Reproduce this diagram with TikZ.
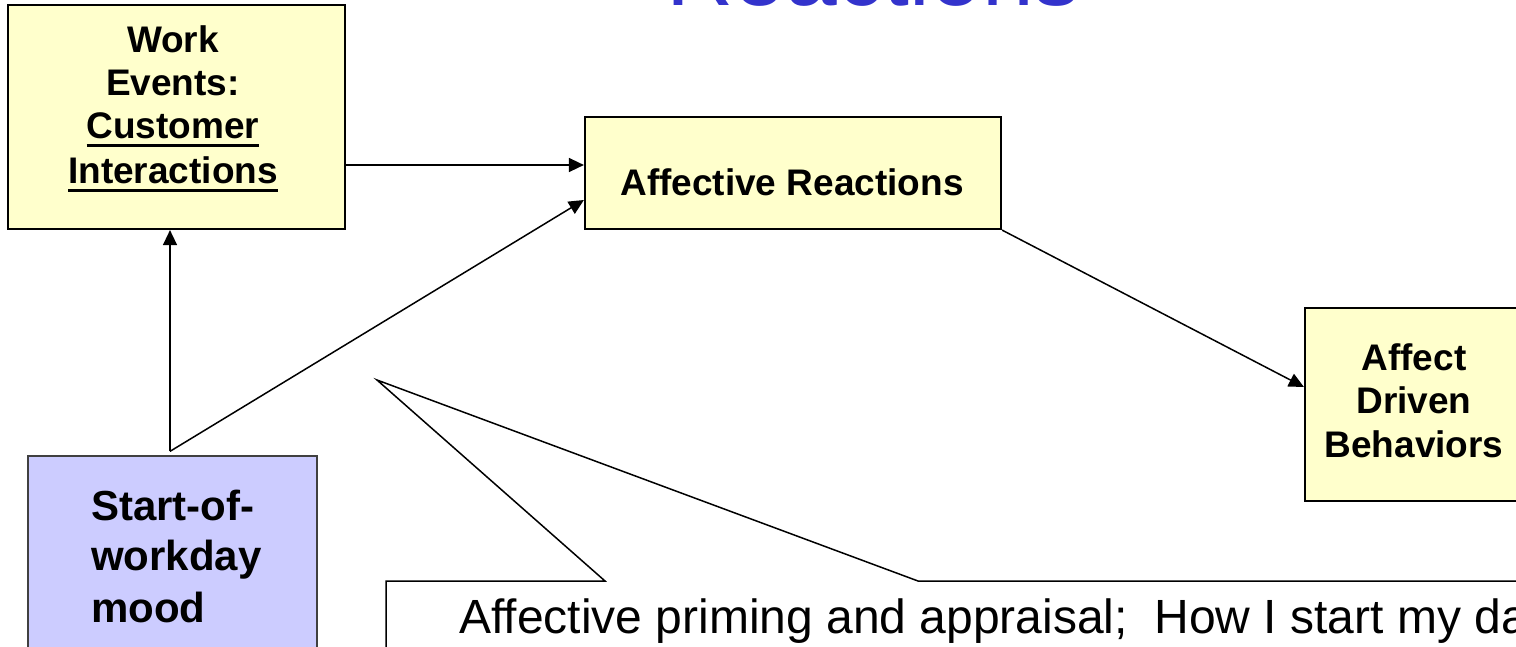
\documentclass[tikz,border=0pt]{standalone}
\usepackage{fontspec}
\setmainfont{Liberation Sans}
\usetikzlibrary{arrows.meta,calc}
\definecolor{yfill}{HTML}{FFFFCC}
\definecolor{pfill}{HTML}{CCCCFF}
\definecolor{ttlblue}{HTML}{3333CC}
\newcommand\myul[1]{\setbox0=\hbox{#1}\rlap{\rule[-9pt]{\wd0}{3pt}}\box0}
\begin{document}
\begin{tikzpicture}[x=1pt,y=-1pt,
  ybox/.style={draw=black, line width=2.2pt, fill=yfill, inner sep=0pt},
  pbox/.style={draw=black!75, line width=1.3pt, fill=pfill, inner sep=0pt},
  tb/.style={font=\fontsize{37}{43}\selectfont\bfseries, inner sep=0pt, anchor=base},
  tbig/.style={font=\fontsize{42}{51}\selectfont\bfseries, inner sep=0pt, anchor=base west},
  ttext/.style={font=\fontsize{48}{56}\selectfont, inner sep=0pt, anchor=base west},
  arr/.style={draw=black, line width=1.5pt, -{Triangle[length=15pt,width=14pt]}},
  callout/.style={draw=black, line width=1.5pt, fill=white, line join=miter}]
\useasboundingbox (0,0) rectangle (1516,646);
\clip (0,0) rectangle (1516,646);

% title (mostly cut off at top)
\node[font=\fontsize{93}{100}\selectfont, text=ttlblue, inner sep=0pt, anchor=base] (ttl) at (873.5,5) {Reactions};

% boxes
\node[ybox, minimum width=337pt, minimum height=224pt] (we) at (176.5,117) {};
\node[ybox, minimum width=416pt, minimum height=112pt] (ar) at (793,173) {};
\node[ybox, minimum width=222pt, minimum height=193pt] (ad) at (1416,404.5) {};
\node[pbox, minimum width=289pt, minimum height=244pt] (sm) at (172.5,578) {};

% box texts
\node[tb] (we1) at (173,52) {Work};
\node[tb] (we2) at (173,95) {Events:};
\node[tb] (we3) at (173,138) {\myul{Customer}};
\node[tb] (we4) at (173,183) {\myul{Interactions}};
\node[tb] (ar1) at (792,195) {Affective Reactions};
\node[tb] (ad1) at (1414,370) {Affect};
\node[tb] (ad2) at (1414,413) {Driven};
\node[tb] (ad3) at (1414,457) {Behaviors};
\node[tbig] (sm1) at (91,520) {Start-of-};
\node[tbig] (sm2) at (91,570) {workday};
\node[tbig] (sm3) at (91,622) {mood};

% callout
\coordinate (ctip) at (377,380);
\draw[callout] (386,700) -- (386,581) -- (605,581) -- (ctip) -- (918,581) -- (1560,581) -- (1560,700) -- cycle;
\node[ttext] (ct) at (459,633) {Affective priming and appraisal;\hspace{0.556em}How I start my day};

% connectors
\coordinate (a1) at ($(ar.west)+(0,-8)$);
\coordinate (a2) at ($(ar.west)+(0,27)$);
\coordinate (smtop) at ($(sm.north)+(-2.5,-4)$);
\coordinate (a3) at ($(ad.west)+(0,-17.5)$);
\draw[arr] (we.east |- a1) -- (a1);
\draw[arr] (smtop) -- (a2);
\draw[arr] (smtop) -- (smtop |- we.south);
\draw[arr] (ar.south east) -- (a3);
\end{tikzpicture}
\end{document}
